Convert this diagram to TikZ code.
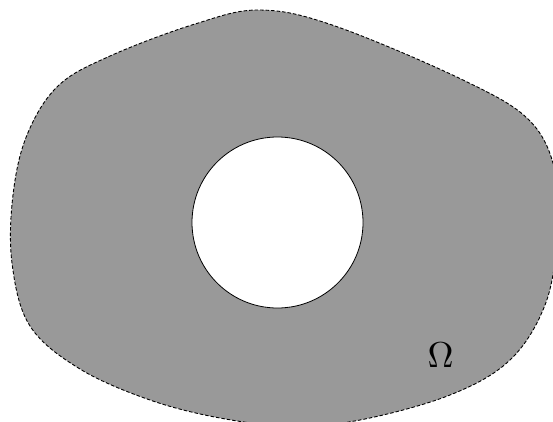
\documentclass[tikz,border=0pt]{standalone}
\begin{document}
\begin{tikzpicture}[x=1pt,y=-1pt,
  region/.style={fill=black!40, draw=black, dashed, dash pattern=on 3.5pt off 2pt, line width=0.9pt},
  hole/.style={circle, fill=white, draw=black, line width=0.8pt, minimum size=171pt, inner sep=0pt},
  lbl/.style={scale=3.6}]
\useasboundingbox (0,0) rectangle (553,422);
\clip (0,0) rectangle (553,422);
\path[region] plot[smooth cycle, tension=0.6] coordinates {
  (260,10) (335,26) (463,80) (530,121) (556,175) (557,240) (545,305) (510,360)
  (450,395) (360,420) (290,426) (220,418) (150,400) (80,369) (30,326) (12,263)
  (13,195) (27,135) (58,86) (110,56) (195,24)};
\node[hole] (h) at (277.5,222.5) {};
\node[lbl] (om) at (440.5,355) {$\Omega$};
\end{tikzpicture}
\end{document}
